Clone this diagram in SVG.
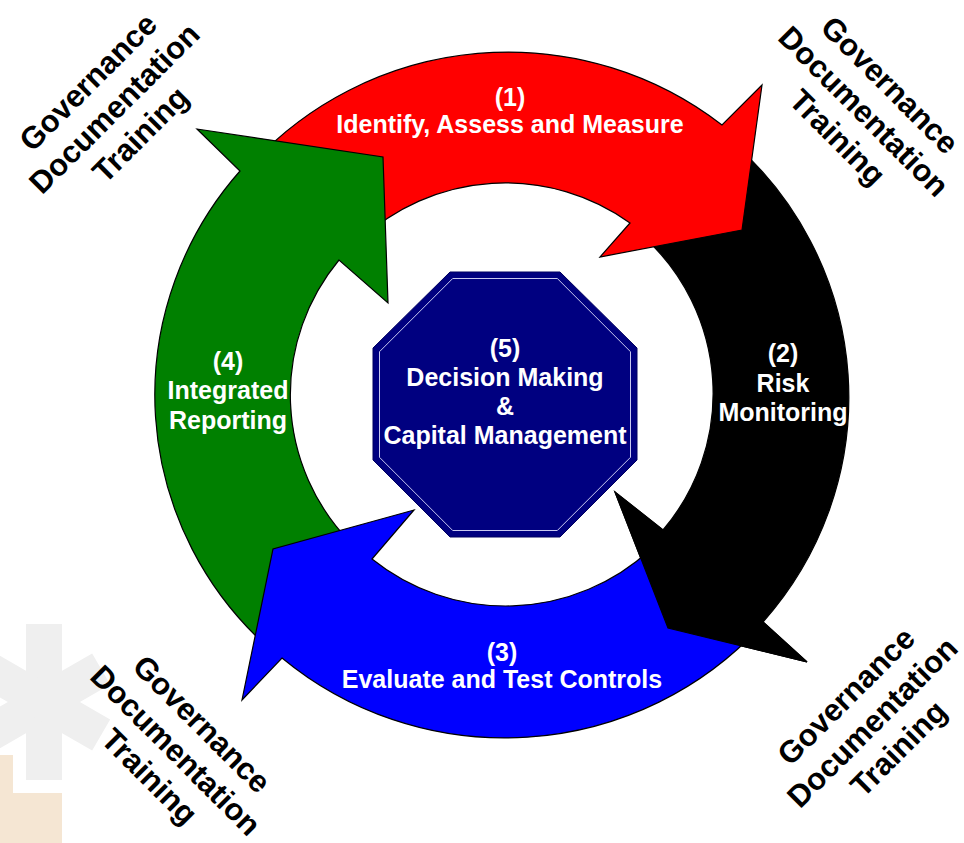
<svg xmlns="http://www.w3.org/2000/svg" width="964" height="843" viewBox="0 0 964 843">
<style>
.arrow{stroke:#000;stroke-width:1.2;stroke-linejoin:miter}
.lbl{font-family:"Liberation Sans",Arial,sans-serif;font-weight:bold;font-size:25px;fill:#fff;text-anchor:middle}
.corner{font-family:"Liberation Sans",Arial,sans-serif;font-weight:bold;font-size:31px;fill:#000;text-anchor:middle}
</style>
<rect width="964" height="843" fill="#fff"/>
<g id="watermark">
<g fill="#efefef">
<rect x="26" y="624" width="36" height="156"/>
<rect x="-66" y="-18" width="132" height="36" transform="translate(44,702) rotate(-30)"/>
<rect x="-66" y="-18" width="132" height="36" transform="translate(44,702) rotate(30)"/>
</g>
<path d="M0,755 H13 V793 H62 V843 H0 Z" fill="#f5e6d3"/>
</g>
<g id="connectors">
<path id="arrow2-black" class="arrow" fill="#000" d="M730,140 A346,341 0 0,1 763,622 L807,662 L668,628 L615,492 L663,530 A213,212 0 0,0 645,238 Z"/>
<path id="arrow1-red" class="arrow" fill="#ff0000" d="M250,166 A346,341 0 0,1 722,125 L762,85 L742,230 L600,257 L630,223 A213,212 0 0,0 360,240 Z"/>
<path id="arrow4-green" class="arrow" fill="#008000" d="M271,650 A346,341 0 0,1 240,171 L197,129 L383,157 L388,303 L339,260 A213,212 0 0,0 350,542 Z"/>
<path id="arrow3-blue" class="arrow" fill="#0000ff" d="M760,627 A346,341 0 0,1 282,658 L242,700 L273,549 L414,510 L372,559 A213,212 0 0,0 650,550 Z"/>
<path id="arrow2-head" class="arrow" fill="#000" d="M763,622 L807,662 L668,628 L615,492 L663,530 Z"/>
</g>
<g id="node1">
<text class="lbl" x="510" y="106">(1)</text>
<text class="lbl" x="510" y="133">Identify, Assess and Measure</text>
</g>
<g id="node2">
<text class="lbl" x="783" y="362">(2)</text>
<text class="lbl" x="783" y="392">Risk</text>
<text class="lbl" x="783" y="421">Monitoring</text>
</g>
<g id="node3">
<text class="lbl" x="502" y="661">(3)</text>
<text class="lbl" x="502" y="688">Evaluate and Test Controls</text>
</g>
<g id="node4">
<text class="lbl" x="228" y="370">(4)</text>
<text class="lbl" x="228" y="399">Integrated</text>
<text class="lbl" x="228" y="429">Reporting</text>
</g>
<g id="node5">
<polygon points="450,272 560,272 637,348 637,460 560,537 450,537 373,460 373,348" fill="#000080" stroke="#000060" stroke-width="1"/>
<polygon points="452.7,278.5 557.3,278.5 630.5,351.7 630.5,457.3 557.3,530.5 452.7,530.5 379.5,457.3 379.5,351.7" fill="none" stroke="#c8c8f0" stroke-width="1"/>
<text class="lbl" x="505" y="357">(5)</text>
<text class="lbl" x="505" y="386">Decision Making</text>
<text class="lbl" x="505" y="415">&amp;</text>
<text class="lbl" x="505" y="444">Capital Management</text>
</g>
<g id="corner-tl" transform="translate(114,108) rotate(-45)">
<text class="corner" x="0" y="-26">Governance</text>
<text class="corner" x="0" y="11">Documentation</text>
<text class="corner" x="0" y="48">Training</text>
</g>
<g id="corner-tr" transform="translate(864,111) rotate(45)">
<text class="corner" x="0" y="-26">Governance</text>
<text class="corner" x="0" y="11">Documentation</text>
<text class="corner" x="0" y="48">Training</text>
</g>
<g id="corner-bl" transform="translate(176,750) rotate(45)">
<text class="corner" x="0" y="-26">Governance</text>
<text class="corner" x="0" y="11">Documentation</text>
<text class="corner" x="0" y="48">Training</text>
</g>
<g id="corner-br" transform="translate(872,722) rotate(-45)">
<text class="corner" x="0" y="-26">Governance</text>
<text class="corner" x="0" y="11">Documentation</text>
<text class="corner" x="0" y="48">Training</text>
</g>
</svg>
